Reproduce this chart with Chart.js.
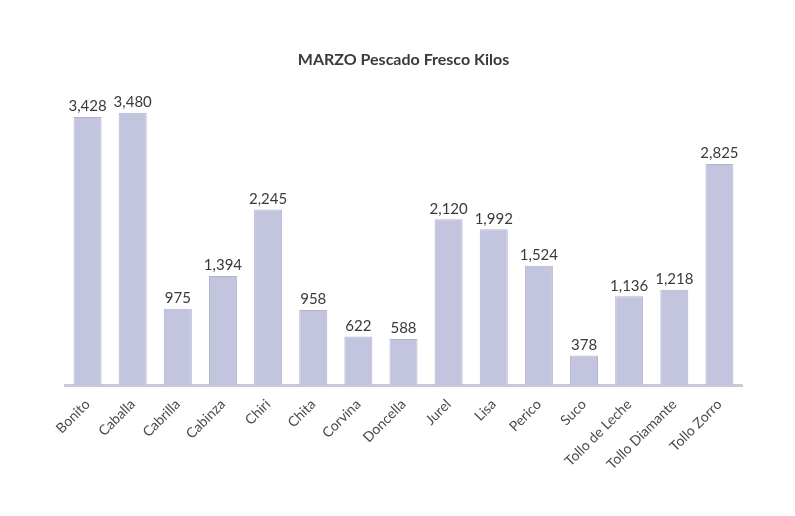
<!DOCTYPE html>
<html>
<head>
<meta charset="utf-8">
<script src="https://cdn.jsdelivr.net/npm/chart.js@4/dist/chart.umd.min.js"></script>
<style>
  html, body { margin: 0; padding: 0; background: #fff; }
  #wrap { width: 795px; height: 516px; position: relative; }
</style>
</head>
<body>
<div id="wrap"><canvas id="grafico"></canvas></div>
<script>
const especies = ["Bonito", "Caballa", "Cabrilla", "Cabinza", "Chiri", "Chita", "Corvina", "Doncella",
  "Jurel", "Lisa", "Perico", "Suco", "Tollo de Leche", "Tollo Diamante", "Tollo Zorro"];
const kilos = [3428, 3480, 975, 1394, 2245, 958, 622, 588, 2120, 1992, 1524, 378, 1136, 1218, 2825];
const titulo = "MARZO Pescado Fresco Kilos";

// etiquetas de valor sobre cada barra
const etiquetas = {
  id: "etiquetas",
  afterDatasetsDraw(chart) {
    const ctx = chart.ctx;
    const meta = chart.getDatasetMeta(0);
    ctx.save();
    ctx.font = "15px Lato, 'Open Sans', sans-serif";
    ctx.fillStyle = "#3a3a3a";
    ctx.textAlign = "center";
    ctx.textBaseline = "bottom";
    meta.data.forEach(function(barra, i) {
      ctx.fillText(kilos[i].toLocaleString("en-US"), barra.x, barra.y - 3);
    });
    ctx.restore();
  }
};

new Chart("grafico", {
  type: "bar",
  data: {
    labels: especies,
    datasets: [{
      data: kilos,
      backgroundColor: "#c3c5de",
      borderColor: "#b2b4cf",
      borderWidth: 1,
      barPercentage: 0.62,
      categoryPercentage: 1
    }]
  },
  options: {
    responsive: true,
    maintainAspectRatio: false,
    animation: false,
    layout: { padding: { top: 50, left: 65, right: 53, bottom: 40 } },
    plugins: {
      legend: { display: false },
      tooltip: { enabled: false },
      title: {
        display: true,
        text: titulo,
        color: "#3a3a3a",
        font: { family: "Lato, 'Open Sans', sans-serif", size: 16, weight: "bold" },
        padding: { top: 0, bottom: 28 }
      }
    },
    scales: {
      x: {
        grid: { display: false },
        border: { display: true, color: "#c9cbdc", width: 3 },
        ticks: {
          color: "#4a4a4a",
          font: { family: "Lato, 'Open Sans', sans-serif", size: 14 },
          maxRotation: 45,
          minRotation: 45,
          autoSkip: false
        }
      },
      y: {
        display: false,
        min: 0,
        max: 3680
      }
    }
  },
  plugins: [etiquetas]
});
</script>
</body>
</html>
